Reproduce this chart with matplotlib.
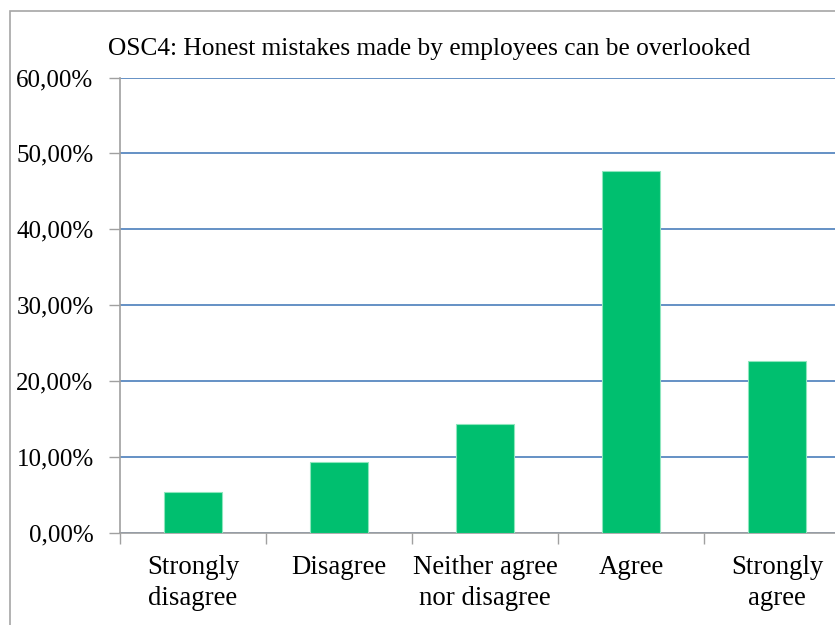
import matplotlib
matplotlib.use("Agg")
import matplotlib.pyplot as plt
from matplotlib.patches import Rectangle
from matplotlib.ticker import FuncFormatter, MultipleLocator

categories = ["Strongly\ndisagree", "Disagree", "Neither agree\nnor disagree", "Agree", "Strongly\nagree"]
values = [5.44, 9.39, 14.32, 47.7, 22.66]
title = "OSC4: Honest mistakes made by employees can be overlooked"

plt.rcParams["font.family"] = ["Liberation Serif", "DejaVu Serif"]

W, H = 835, 625
fig = plt.figure(figsize=(W / 100, H / 100), dpi=100)

# chart frame
fig.patches.append(Rectangle((10 / W, -0.1), 1.2, (H - 11) / H + 0.1,
                             transform=fig.transFigure, fill=False,
                             edgecolor="#a6a6a6", linewidth=1.2))

ax = fig.add_axes([120 / W, 92 / H, 730 / W, 455.5 / H])
x = range(len(categories))
ax.bar(x, values, width=0.4, color="#00bf6f", edgecolor="#8ee6bd", linewidth=0.8, zorder=3)

ax.set_xlim(-0.5, len(categories) - 0.5)
ax.set_ylim(0, 60)
ax.yaxis.set_major_locator(MultipleLocator(10))
ax.yaxis.set_major_formatter(FuncFormatter(lambda v, p: f"{v:.2f}".replace(".", ",") + "%"))
ax.yaxis.grid(True, color="#4a7ebb", linewidth=1.2, zorder=1)

ax.set_xticks([i + 0.5 for i in range(-1, len(categories))])
ax.set_xticklabels([])
ax.set_xticks(list(x), minor=True)
ax.set_xticklabels(categories, minor=True, fontsize=19.3, linespacing=1.3)
ax.tick_params(axis="x", which="minor", length=0, pad=16)
ax.tick_params(axis="x", which="major", length=8, color="#a0a0a0", width=1)
ax.tick_params(axis="y", length=8, color="#a0a0a0", width=1, labelsize=18, pad=11)

for side in ("top", "right"):
    ax.spines[side].set_visible(False)
for side in ("left", "bottom"):
    ax.spines[side].set_color("#a0a0a0")
    ax.spines[side].set_linewidth(1.2)

fig.text(108 / W, 1 - 55 / H, title, fontsize=18.3, va="baseline", ha="left")

fig.savefig("out.png", dpi=100)
